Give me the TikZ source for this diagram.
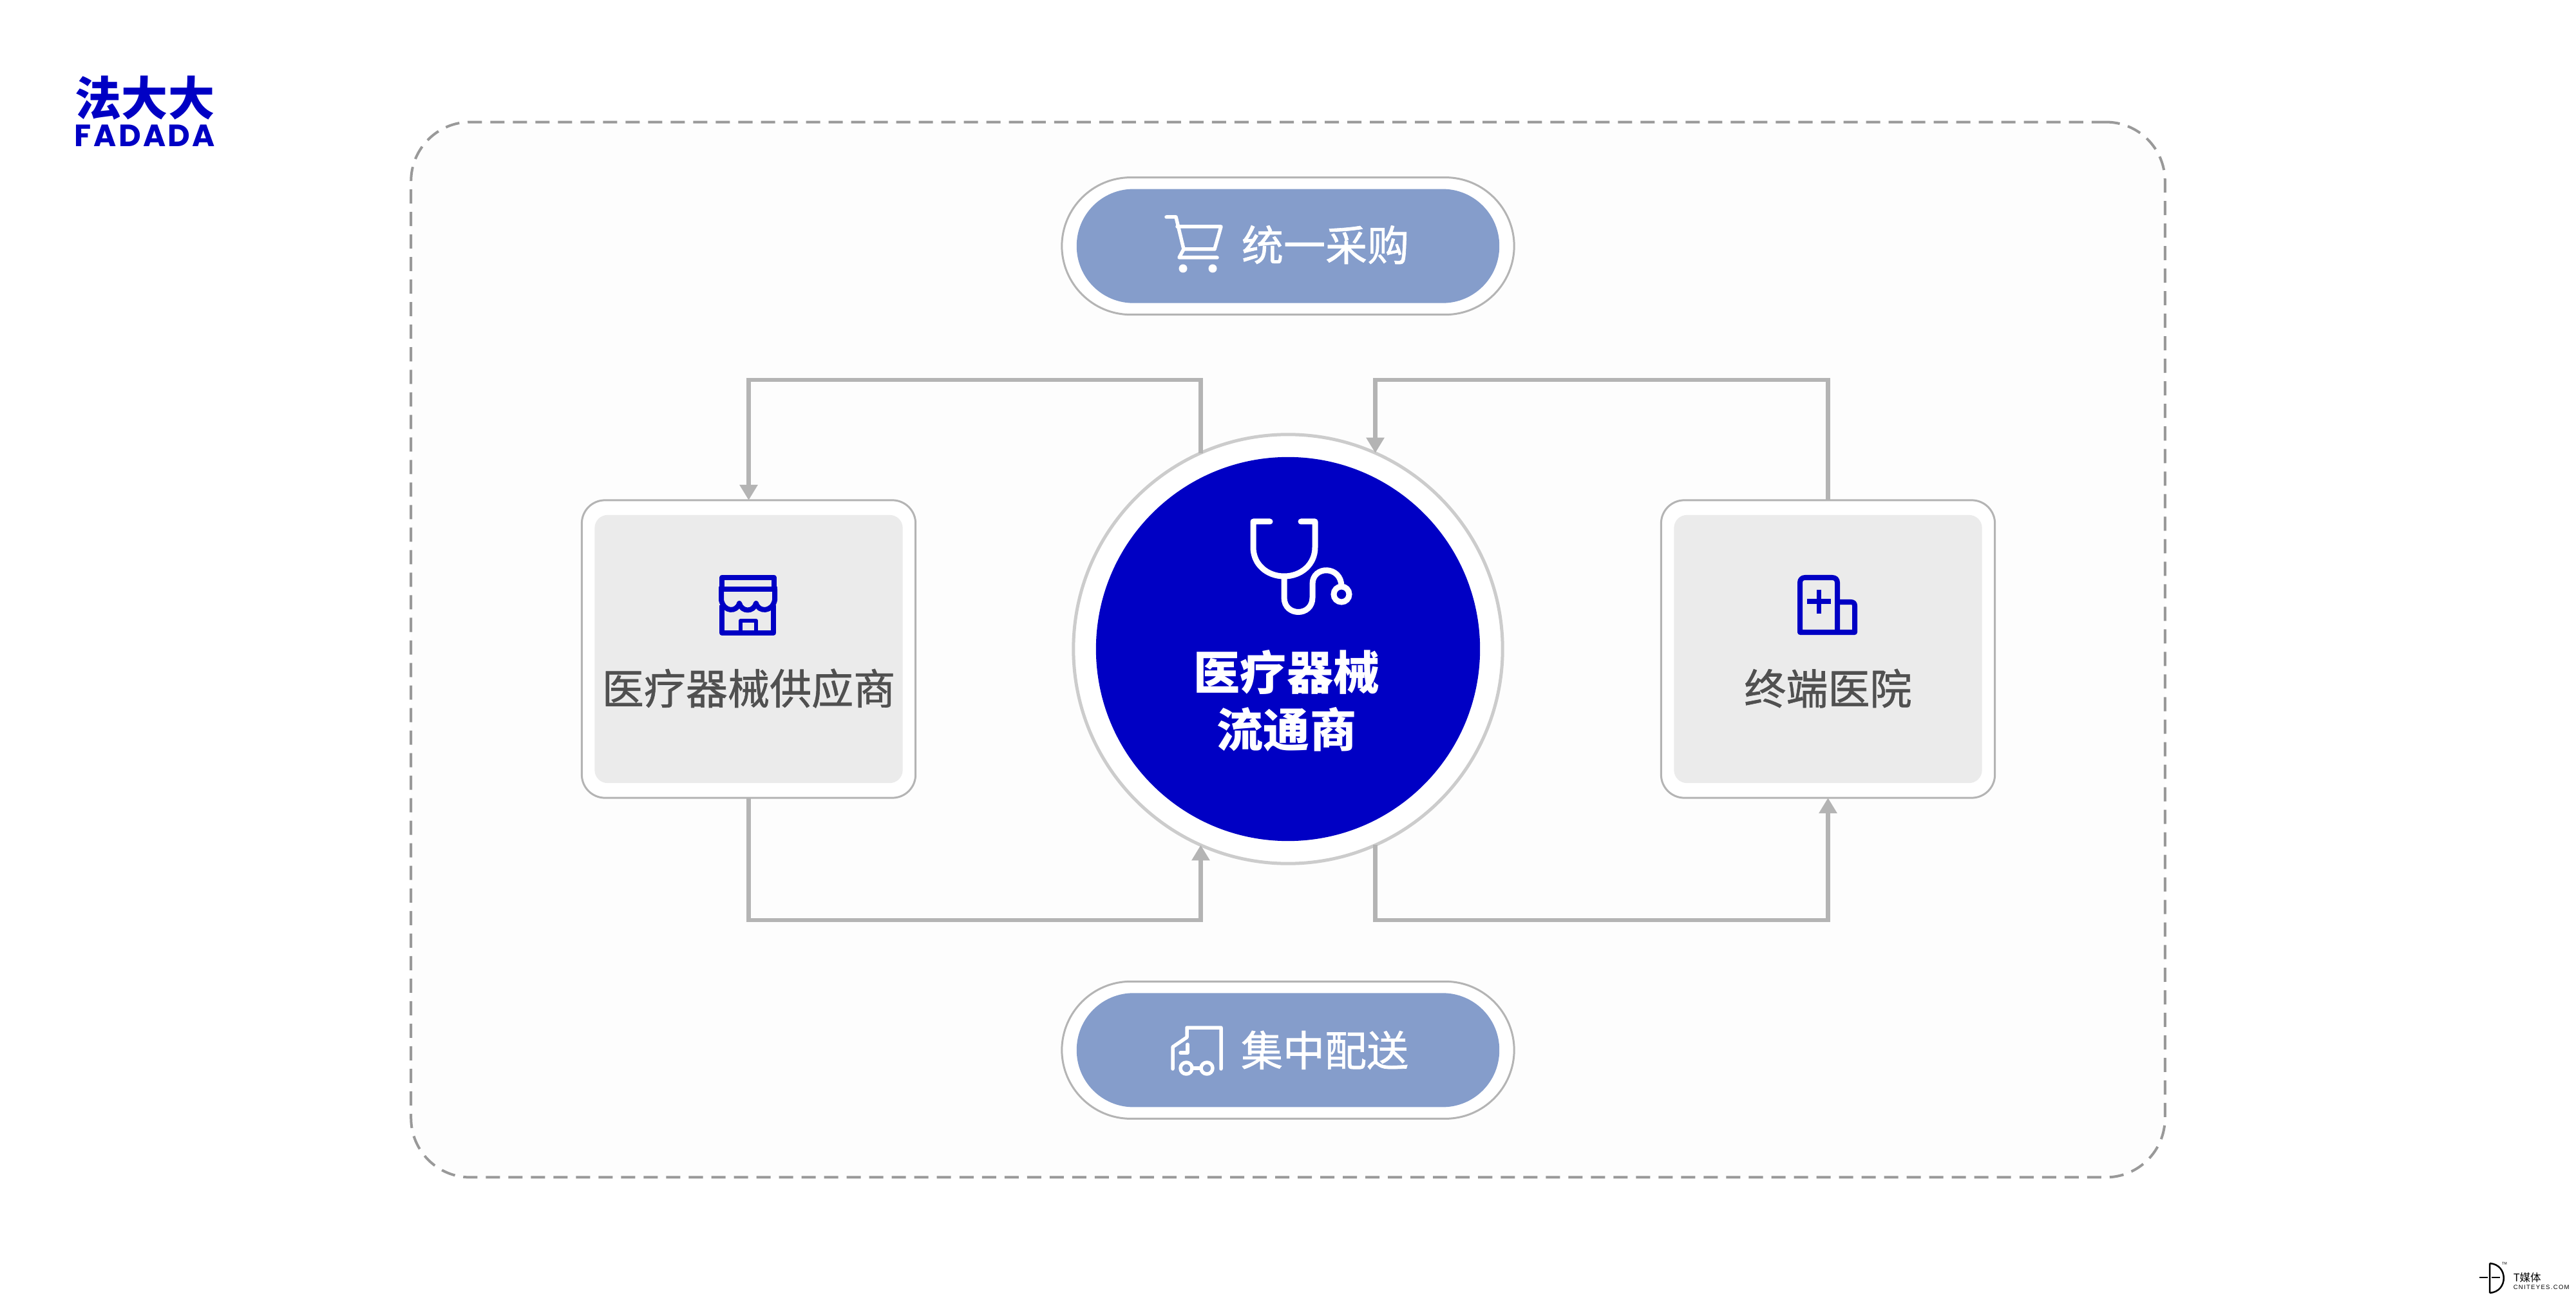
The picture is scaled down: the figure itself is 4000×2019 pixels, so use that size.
\documentclass[tikz,border=0pt]{standalone}
\usepackage{fontspec}
\usepackage{graphicx}
\setmainfont{Noto Sans CJK SC}
\newfontfamily\latinfont[LetterSpace=14]{Liberation Sans}
\newfontfamily\lblfont[FakeBold=1]{Noto Sans CJK SC}
\newfontfamily\logofont[LetterSpace=7]{Poppins Bold}
\usepackage{tikz}
\usetikzlibrary{positioning,arrows.meta,calc}
\definecolor{fddblue}{HTML}{0000C4}
\definecolor{pillblue}{HTML}{859DCB}
\definecolor{linegrey}{HTML}{B4B4B4}
\definecolor{lblgrey}{HTML}{505050}
\definecolor{panelgrey}{HTML}{FDFDFD}

\begin{document}
\begin{tikzpicture}[
x=0.01cm,y=-0.01cm,
panel/.style={rectangle,draw=black!40,line width=0.04cm,dash pattern=on 0.22cm off 0.13cm,fill=panelgrey,rounded corners=0.92cm,minimum width=27.22cm,minimum height=16.38cm},
outerbox/.style={rectangle,draw=linegrey,line width=0.03cm,fill=white,rounded corners=0.36cm,minimum width=5.18cm,minimum height=4.62cm,outer sep=0pt},
innerbox/.style={rectangle,fill=black!8,rounded corners=0.2cm,minimum width=4.78cm,minimum height=4.16cm},
outerpill/.style={rectangle,draw=linegrey,line width=0.03cm,fill=white,rounded corners=1.07cm,minimum width=7.02cm,minimum height=2.13cm,outer sep=0pt},
innerpill/.style={rectangle,fill=pillblue,rounded corners=0.88cm,minimum width=6.56cm,minimum height=1.77cm},
lbl/.style={text=lblgrey,font=\fontsize{18.5}{22}\lblfont,inner sep=0pt},
pilllbl/.style={text=white,font=\fontsize{18.5}{22}\lblfont,inner sep=0pt},
link/.style={draw=linegrey,line width=0.065cm},
linkto/.style={link,-{Triangle[length=0.24cm,width=0.27cm]}},
icon/.style={draw=fddblue,line width=0.08cm,line join=round},
whiteicon/.style={draw=white,line width=0.055cm,line join=round,line cap=round}
]
\useasboundingbox (0,0) rectangle (4000,2019);
\node [panel] (panel) at (2000,1009) {};

% middle
\node [circle,draw=black!20,line width=0.05cm,fill=white,minimum size=6.66cm,outer sep=0pt] (hub) at (2000,1008) {};
\node [circle,fill=fddblue,minimum size=5.96cm] (hubfill) at (hub) {};
\node [text=white,align=center,inner sep=0pt,font=\fontsize{20.5}{25.2}\bfseries\selectfont] (hublbl) at ([yshift=-0.8cm,xshift=-0.02cm]hub.center) {医疗器械\\流通商};

% the two sides
\node [outerbox,left=2.45cm of hub] (supplierbox) {};
\node [innerbox] (supplier) at (supplierbox) {};
\node [lbl] (supplierlbl) at ([yshift=-0.61cm]supplier.center) {医疗器械供应商};
\node [outerbox,right=2.46cm of hub] (hospitalbox) {};
\node [innerbox] (hospital) at (hospitalbox) {};
\node [lbl] (hospitallbl) at ([yshift=-0.61cm]hospital.center) {终端医院};

% top and bottom
\node [outerpill,above=1.86cm of hub] (buybox) {};
\node [innerpill] (buy) at (buybox) {};
\node [pilllbl] (buylbl) at ([xshift=0.58cm,yshift=0.02cm]buy.center) {统一采购};
\node [outerpill,below=1.83cm of hub] (shipbox) {};
\node [innerpill] (ship) at (shipbox) {};
\node [pilllbl] (shiplbl) at ([xshift=0.57cm]ship.center) {集中配送};

% connectors
\coordinate (topbus) at (2000,590);
\coordinate (botbus) at (2000,1429);
\draw [linkto] (hub.114.1) |- (supplierbox.north |- topbus) -- (supplierbox.north);
\draw [linkto] (hospitalbox.north) |- (hub.66.2 |- topbus) -- (hub.66.2);
\draw [linkto] (supplierbox.south) |- (hub.-114.1 |- botbus) -- (hub.-114.1);
\draw [linkto] (hub.-66.2) |- (hospitalbox.south |- botbus) -- (hospitalbox.south);

% stethoscope
\draw [white,line width=0.09cm,line cap=round,line join=round] (1972,810) -- (1946,810) -- (1946,850) .. controls (1946,877) and (1968,895) .. (1994,895) .. controls (2020,895) and (2042,877) .. (2042,850) -- (2042,810) -- (2020,810);
\draw [white,line width=0.09cm] (1994,895) -- (1994,928) .. controls (1994,958) and (2038,958) .. (2038,928) -- (2038,907) .. controls (2038,878) and (2083,878) .. (2083,911);
\draw [white,line width=0.09cm] (2083,923) circle [radius=0.12cm];

% store
\draw [icon] (1121,915) -- (1121,897) -- (1202,897) -- (1202,915);
\draw [icon] (1116,915) -- (1207,915);
\draw [icon] (1120,915) -- (1120,932) .. controls (1124,951) and (1144,951) .. (1148,937) .. controls (1152,951) and (1170,951) .. (1174,937) .. controls (1178,951) and (1199,951) .. (1203,932) -- (1203,915);
\draw [icon] (1121,940) -- (1121,983) -- (1201,983) -- (1201,940);
\draw [icon,line width=0.06cm] (1150,983) -- (1150,964) -- (1174,964) -- (1174,983);

% hospital
\draw [icon] (2795,982) -- (2795,905) .. controls (2795,900) and (2798,897) .. (2803,897) -- (2845,897) .. controls (2850,897) and (2853,900) .. (2853,905) -- (2853,982) -- cycle;
\draw [icon] (2853,935) -- (2874,935) .. controls (2878,935) and (2880,937) .. (2880,941) -- (2880,982) -- (2853,982);
\draw [fddblue,line width=0.07cm] (2806,934) -- (2843,934) (2824,916) -- (2824,953);

% cart
\draw [whiteicon] (1811,337) -- (1826,337) -- (1838,387) -- (1886,387) -- (1896,352) -- (1828,352);
\draw [whiteicon] (1838,387) -- (1831,400) -- (1890,400);
\fill [white] (1837,417) circle [radius=0.065cm] (1883,417) circle [radius=0.065cm];

% truck
\draw [whiteicon] (1821,1660) -- (1821,1626) -- (1843,1611) -- (1843,1596) -- (1896,1596) -- (1896,1660);
\draw [whiteicon] (1833,1635) -- (1844,1635) -- (1844,1622);
\draw [whiteicon] (1842,1659) circle [radius=0.09cm] (1874,1659) circle [radius=0.09cm];
\draw [whiteicon] (1851,1659) -- (1865,1659);

% logo
\node [text=fddblue,inner sep=0pt,font=\fontsize{20.5}{22}\bfseries\selectfont] (logo) at (225,152) {法大大};
\node [text=fddblue,inner sep=0pt,font=\fontsize{13.6}{14}\logofont] (logoname) at (225,211) {FADADA};

% watermark
\draw [black,line width=0.025cm] (3866,1962) -- (3866,2008) (3866,1962) .. controls (3895,1964) and (3895,2006) .. (3866,2008);
\draw [black,line width=0.025cm] (3850,1984) -- (3863,1984) (3869,1984) -- (3882,1984);
\node [inner sep=0pt,font=\fontsize{1.6}{2}\selectfont] (tm) at (3889,1962) {TM};
\node [inner sep=0pt,anchor=west,font=\fontsize{4.7}{5}\selectfont] (tmedia) at (3902,1984) {T媒体};
\node [inner sep=0pt,anchor=west,font=\fontsize{2.7}{3}\latinfont] (site) at (3902,1999) {CNITEYES.COM};
\end{tikzpicture}
\end{document}
